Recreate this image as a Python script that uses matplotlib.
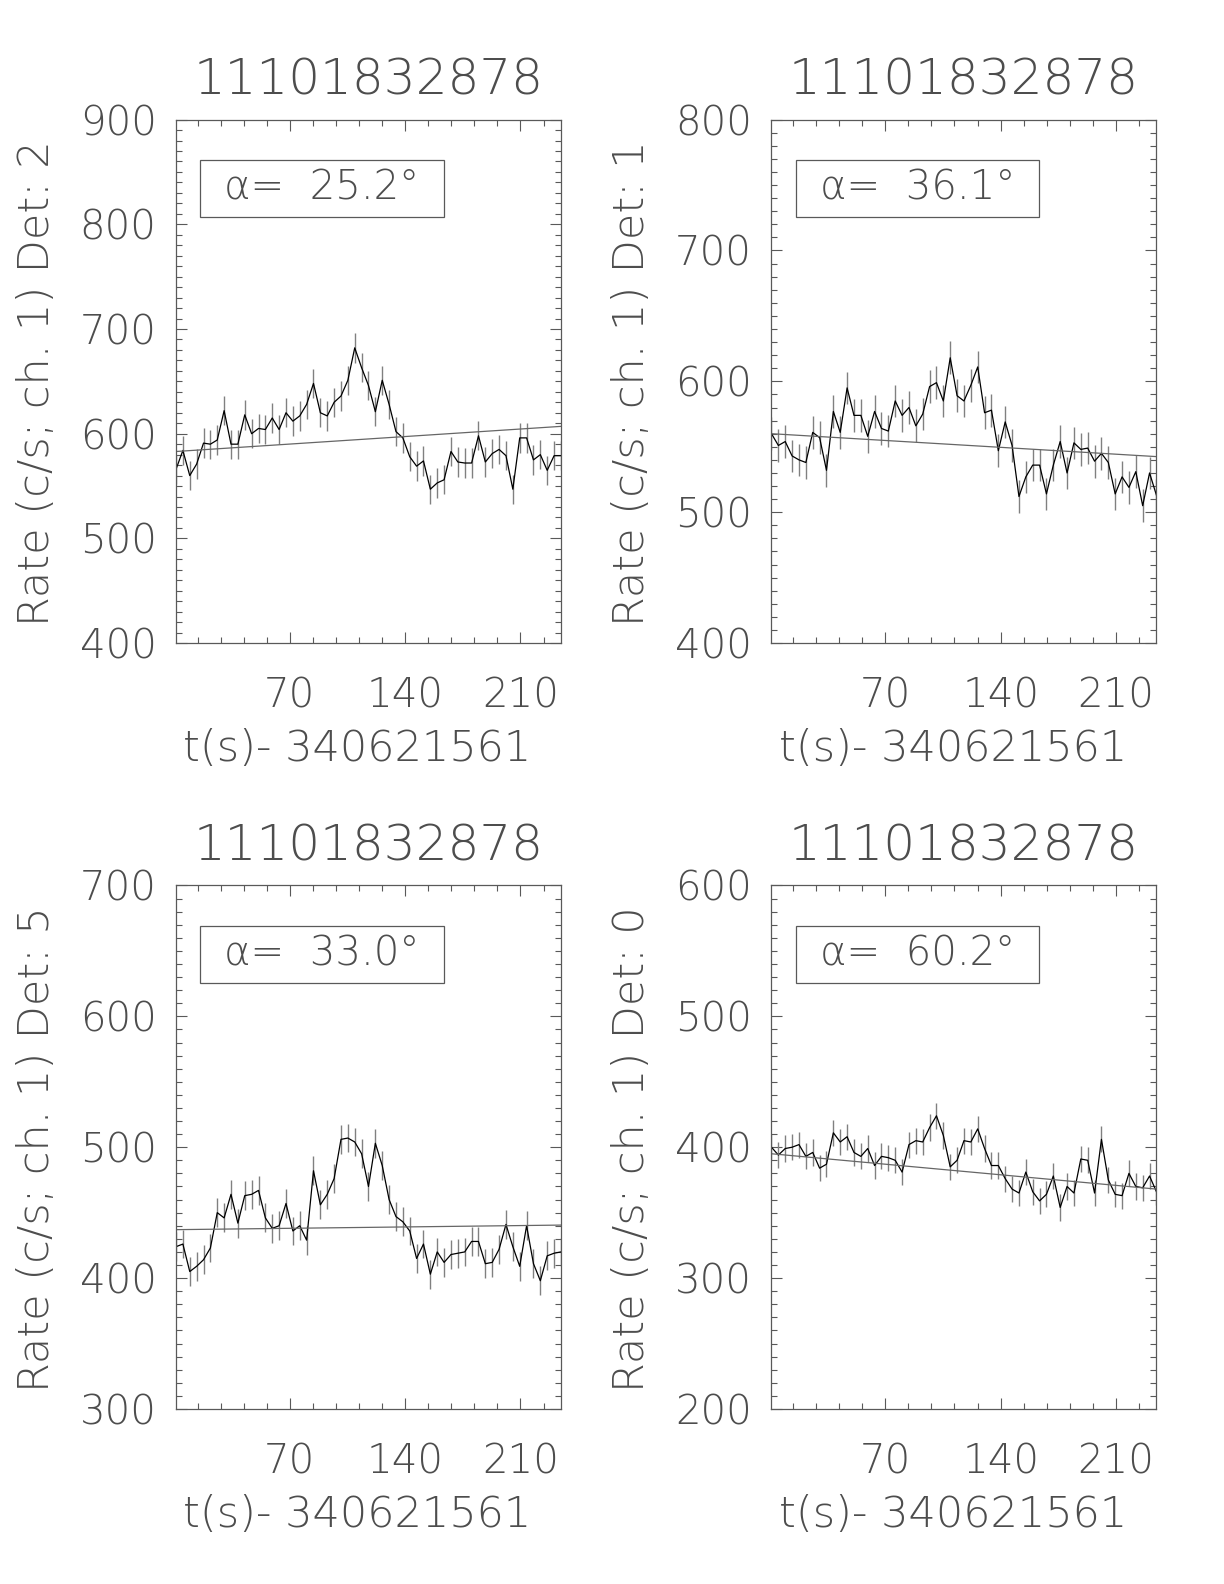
import numpy as np
import matplotlib
matplotlib.use('Agg')
import matplotlib.pyplot as plt
from matplotlib.patches import Rectangle

plt.rcParams['font.family'] = ['DejaVu Sans']
plt.rcParams['font.weight'] = 200
plt.rcParams['axes.labelweight'] = 200

# time grid of the light curve (s since 340621561)
t_start = 0.9
bin_width = 4.173
n_bins = 57
t = t_start + bin_width * np.arange(n_bins)

title = '11101832878'
xlabel = 't(s)- 340621561'

# rates (c/s, channel 1) per detector
rate_d2 = [566, 584, 560, 571, 591, 590, 594, 622, 590, 590, 618, 600, 605, 604, 615, 604, 620, 612, 617, 628,
           648, 620, 617, 630, 636, 651, 682, 663, 646, 621, 651, 628, 602, 596, 578, 569, 574, 547, 553, 556,
           583, 573, 572, 572, 598, 573, 581, 585, 579, 547, 596, 596, 575, 580, 565, 579, 579]
rate_d1 = [560, 551, 554, 543, 540, 538, 561, 557, 532, 577, 561, 595, 574, 574, 558, 577, 564, 562, 585, 574,
           580, 566, 575, 596, 599, 585, 618, 589, 585, 597, 611, 576, 578, 547, 569, 551, 512, 527, 536, 536,
           514, 536, 554, 530, 553, 548, 549, 539, 545, 538, 514, 527, 519, 531, 505, 530, 513]
rate_d5 = [424, 426, 405, 409, 414, 423, 450, 446, 464, 442, 463, 464, 467, 446, 438, 440, 457, 436, 440, 429,
           482, 456, 464, 476, 506, 507, 504, 495, 470, 503, 486, 460, 447, 443, 436, 415, 426, 403, 420, 412,
           418, 419, 420, 428, 428, 411, 412, 422, 441, 424, 409, 440, 411, 398, 417, 419, 420]
rate_d0 = [400, 394, 399, 400, 402, 393, 396, 384, 387, 411, 404, 408, 396, 393, 399, 386, 393, 392, 390, 381,
           402, 405, 404, 415, 424, 409, 385, 390, 405, 404, 414, 399, 386, 386, 376, 368, 365, 381, 366, 359,
           364, 378, 354, 370, 365, 391, 390, 365, 406, 375, 364, 363, 380, 370, 369, 378, 366]

errors = [14, 12.5, 11, 10]
fit_start = [583, 560, 437, 395]
fit_end = [607, 542.5, 440.5, 368]
detectors = [2, 1, 5, 0]
angles = ['25.2', '36.1', '33.0', '60.2']
ylims = [(400, 900), (400, 800), (300, 700), (200, 600)]
rates = [rate_d2, rate_d1, rate_d5, rate_d0]

# axes positions in figure fraction
lefts = [0.1438, 0.6303, 0.1438, 0.6303]
bottoms = [0.594, 0.594, 0.1105, 0.1105]
w, h = 0.3145, 0.3305

fig = plt.figure(figsize=(12.24, 15.84), dpi=100)
grey = '0.35'
txt = '0.3'

for k in range(4):
    ax = fig.add_axes([lefts[k], bottoms[k], w, h])
    y = np.array(rates[k])
    ax.vlines(t, y - errors[k], y + errors[k], color='0.5', lw=1.0)
    ax.plot(t, y, color='black', lw=0.9)
    ax.plot([t[0], t[-1]], [fit_start[k], fit_end[k]], color='0.4', lw=0.9)

    ax.set_xlim(t[0], t[-1])
    ax.set_ylim(*ylims[k])
    ax.set_xticks([70, 140, 210])
    ax.set_xticks(np.arange(14, 234, 14), minor=True)
    lo, hi = ylims[k]
    ax.set_yticks(np.arange(lo, hi + 1, 100))
    ax.set_yticks(np.arange(lo, hi + 1, 10), minor=True)
    ax.tick_params(which='both', direction='in', top=True, right=True, color=grey, width=0.8,
                   labelsize=29, labelcolor=txt)
    ax.tick_params(which='major', length=8)
    ax.tick_params(which='minor', length=4)
    ax.tick_params(axis='x', pad=24)
    ax.tick_params(axis='y', pad=14)
    for s in ax.spines.values():
        s.set_color(grey)
        s.set_linewidth(0.9)

    ax.text(0.5, 1.075, title, transform=ax.transAxes, ha='center', va='center',
            fontsize=36, color=txt)
    ax.set_xlabel(xlabel, fontsize=31, color=txt)
    ax.xaxis.set_label_coords(0.471, -0.162)
    ax.set_ylabel('Rate (c/s; ch. 1) Det: %d' % detectors[k], fontsize=31, color=txt)
    ax.yaxis.set_label_coords(-0.31, 0.497)

    ax.add_patch(Rectangle((0.063, 0.8145), 0.632, 0.109, transform=ax.transAxes,
                           fill=False, edgecolor=grey, lw=0.9))
    ax.text(0.379, 0.869, 'α=  ' + angles[k] + '°', transform=ax.transAxes,
            ha='center', va='center', fontsize=29, color=txt)

fig.savefig('out.png', dpi=100)
